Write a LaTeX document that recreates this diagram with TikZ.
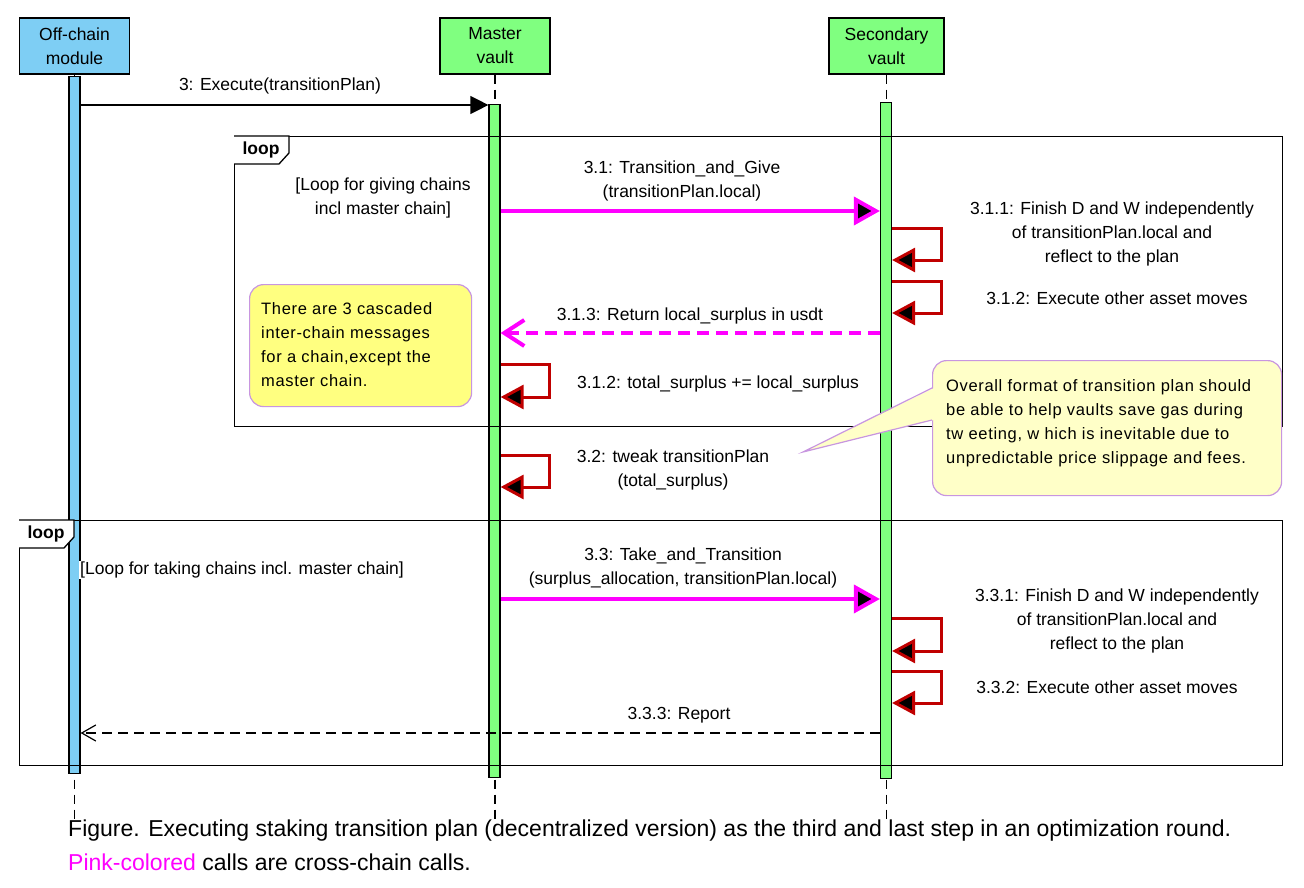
\documentclass[tikz,border=0pt]{standalone}
\usepackage{fontspec}
\setmainfont{Liberation Sans}
\usetikzlibrary{arrows.meta,positioning}
\definecolor{offblue}{HTML}{7ECEF4}
\definecolor{vgreen}{HTML}{80FF80}
\definecolor{callpink}{HTML}{FF00FF}
\definecolor{selfred}{HTML}{C00000}
\definecolor{noteyellow}{HTML}{FFFF80}
\definecolor{notepale}{HTML}{FFFFC8}
\definecolor{noteline}{HTML}{C896E0}
\newcommand\msgfont{\fontsize{17.5}{24}\selectfont}
\newcommand\notefont{\fontsize{16.5}{24}\selectfont\addfontfeatures{LetterSpace=4}}
\newcommand\capfont{\fontsize{23}{31}\selectfont}

\begin{document}
\begin{tikzpicture}[x=1pt, y=-1pt,
  head/.style={draw, line width=1.2pt, minimum width=110pt, minimum height=56pt, align=center, inner sep=2pt, font=\msgfont},
  actbar/.style={draw, line width=1.2pt, minimum width=11pt, inner sep=0pt, anchor=north},
  life/.style={line width=1.2pt, dash pattern=on 9pt off 6pt},
  frame/.style={draw, line width=1.3pt},
  msg/.style={font=\msgfont, align=center, inner sep=1pt},
  call/.style={line width=1.3pt, -{Triangle[length=18pt, width=18pt]}},
  xcall/.style={line width=4pt, color=callpink, -{Triangle[length=26pt, width=28pt, fill=black]}},
  xret/.style={line width=4pt, color=callpink, dash pattern=on 12pt off 7pt, -{Straight Barb[length=20pt, width=26pt]}},
  ret/.style={line width=1.2pt, dash pattern=on 10pt off 6pt, -{Straight Barb[length=14pt, width=16pt]}},
  selfcall/.style={line width=3pt, color=selfred, -{Triangle[length=23pt, width=24pt, fill=black]}},
  note/.style={draw=noteline, line width=1.2pt, rounded corners=14pt, inner sep=0pt},
  notetext/.style={font=\notefont, align=left, inner sep=0pt, anchor=north west}
]
\useasboundingbox (0,0) rectangle (1304,888);

% lifelines
\node[head, fill=offblue] (off) at (74.5,46) {Off-chain\\module};
\node[head, fill=vgreen] (mv) at (495,46) {Master\\vault};
\node[head, fill=vgreen, minimum width=115pt] (sv) at (886.5,46) {Secondary\\vault};
\draw[life] (off.south) -- (off.south |- 0,823);
\draw[life] (mv.south) -- (mv.south |- 0,823);
\draw[life] (sv.south) -- (sv.south |- 0,823);
\node[actbar, fill=offblue, minimum height=697pt] (offact) at (74.5,76) {};
\node[actbar, fill=vgreen, minimum height=673pt] (mact) at (494.5,104) {};
\node[actbar, fill=vgreen, minimum height=676pt] (sact) at (886,102) {};

% loop frames
\node[frame, minimum width=1048pt, minimum height=290pt, anchor=north west] (loopA) at (234,136) {};
\draw[frame, fill=white] (loopA.north west) -- ++(55,0) -- ++(0,17) -- ++(-10,11) -- ++(-45,0);
\node[font=\msgfont\bfseries, anchor=west] (tagA) at (239,150) {loop};
\node[msg] (grdA) at (383,198) {[Loop for giving chains\\incl master chain]};

\node[frame, minimum width=1263pt, minimum height=245pt, anchor=north west] (loopB) at (19,520) {};
\draw[frame, fill=white] (loopB.north west) -- ++(55,0) -- ++(0,17) -- ++(-10,11) -- ++(-45,0);
\node[font=\msgfont\bfseries, anchor=west] (tagB) at (24,534) {loop};
\node[msg, anchor=west, fill=white] (grdB) at (79,570) {[Loop for taking chains incl. master chain]};

% messages
\draw[call] (offact.east |- 0,105) -- (mact.west |- 0,105);
\node[msg] (m3) at (280,86) {3: Execute(transitionPlan)};

\draw[xcall] (mact.east |- 0,211) -- (sact.west |- 0,211);
\node[msg] (m31) at (682,181) {3.1: Transition\_and\_Give\\(transitionPlan.local)};

\draw[selfcall] (sact.east |- 0,228) -- ++(49,0) |- (sact.east |- 0,260);
\node[msg] (m311) at (1112,234) {3.1.1: Finish D and W independently\\of transitionPlan.local and\\reflect to the plan};
\draw[selfcall] (sact.east |- 0,281) -- ++(49,0) |- (sact.east |- 0,313);
\node[msg] (m312) at (1117,298) {3.1.2: Execute other asset moves};

\draw[xret] (sact.west |- 0,333) -- (mact.east |- 0,333);
\node[msg] (m313) at (690,316) {3.1.3: Return local\_surplus in usdt};

\draw[selfcall] (mact.east |- 0,364) -- ++(49,0) |- (mact.east |- 0,397);
\node[msg] (m312b) at (718,384) {3.1.2: total\_surplus += local\_surplus};

\draw[selfcall] (mact.east |- 0,455) -- ++(49,0) |- (mact.east |- 0,487);
\node[msg] (m32) at (673,470) {3.2: tweak transitionPlan\\(total\_surplus)};

\draw[xcall] (mact.east |- 0,599) -- (sact.west |- 0,599);
\node[msg] (m33) at (683,568) {3.3: Take\_and\_Transition\\(surplus\_allocation, transitionPlan.local)};

\draw[selfcall] (sact.east |- 0,618) -- ++(49,0) |- (sact.east |- 0,651);
\node[msg] (m331) at (1117,621) {3.3.1: Finish D and W independently\\of transitionPlan.local and\\reflect to the plan};
\draw[selfcall] (sact.east |- 0,671) -- ++(49,0) |- (sact.east |- 0,703);
\node[msg] (m332) at (1107,687) {3.3.2: Execute other asset moves};

\draw[ret] (sact.west |- 0,733) -- (offact.east |- 0,733);
\node[msg] (m333) at (679,715) {3.3.3: Report};

% notes
\node[note, fill=noteyellow, minimum width=222pt, minimum height=122pt, anchor=north west] (noteA) at (249,284) {};
\node[notetext] (noteAtxt) at (261,302) {There are 3 cascaded\\inter-chain messages\\for a chain,except the\\master chain.};

\node[note, fill=notepale, minimum width=349pt, minimum height=135pt, anchor=north west] (noteB) at (932,360) {};
\coordinate (tipB) at (803,452);
\fill[notepale] (noteB.west |- 0,420) ++(2,0) -- (tipB) -- ([xshift=2pt]noteB.west |- 0,388) -- cycle;
\draw[draw=noteline, line width=1.2pt] (noteB.west |- 0,420) -- (tipB) -- (noteB.west |- 0,388);
\node[notetext] (noteBtxt) at (946,379) {Overall format of transition plan should\\be able to help vaults save gas during\\tw eeting, w hich is inevitable due to\\unpredictable price slippage and fees.};

% caption
\node[font=\capfont, anchor=west, inner sep=0pt] (cap1) at (68,831) {Figure. Executing staking transition plan (decentralized version) as the third and last step in an optimization round.};
\node[font=\capfont, anchor=west, inner sep=0pt] (cap2) at (68,862) {\textcolor{callpink}{Pink-colored} calls are cross-chain calls.};
\end{tikzpicture}
\end{document}
